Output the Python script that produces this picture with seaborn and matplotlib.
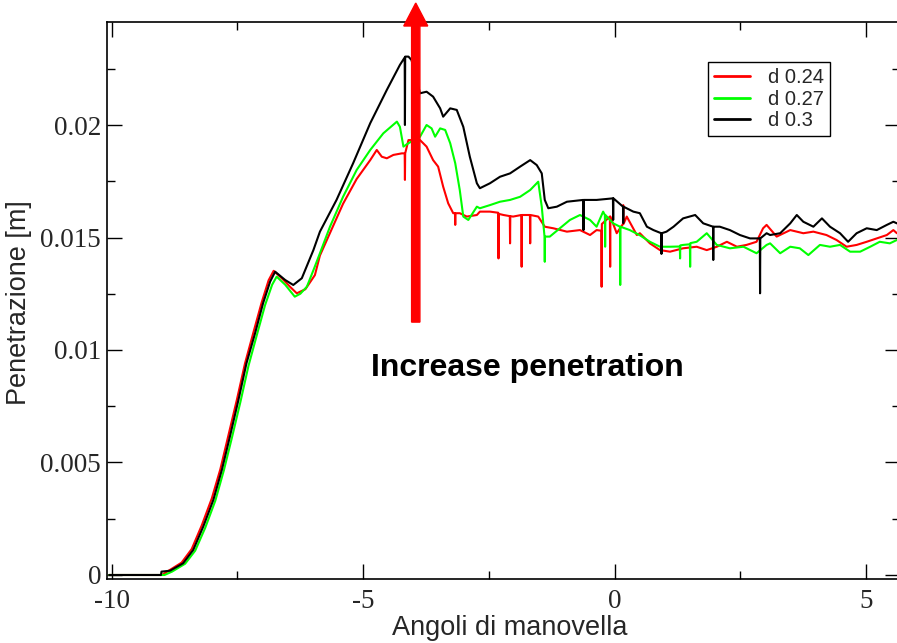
import matplotlib
matplotlib.use("Agg")
import matplotlib.pyplot as plt
import seaborn as sns
import pandas as pd
from matplotlib.ticker import FixedLocator, FixedFormatter

# ---------------- data ----------------
series_labels = ["d 0.24", "d 0.27", "d 0.3"]
series_colors = ["#ff0000", "#00ff00", "#000000"]

x_red = [-10.05, -9.0, -8.86, -8.61, -8.41, -8.21, -8.01, -7.84, -7.68, -7.51, -7.35, -7.18, -7.02, -6.88,
         -6.78, -6.60, -6.45, -6.32, -6.15, -5.96, -5.86, -5.66, -5.40, -5.13, -4.86, -4.73, -4.63, -4.53,
         -4.40, -4.23, -4.175, -4.17, -4.165, -4.10, -3.87, -3.74, -3.61, -3.51, -3.41, -3.31, -3.21, -3.175,
         -3.17, -3.165, -3.08, -2.94, -2.74, -2.68, -2.48, -2.315, -2.31, -2.305, -2.21, -2.085, -2.08, -2.075,
         -2.02, -1.855, -1.85, -1.845, -1.685, -1.68, -1.675, -1.52, -1.39, -1.22, -0.95, -0.69, -0.49, -0.36,
         -0.265, -0.26, -0.255, -0.095, -0.09, -0.085, 0.04, 0.165, 0.17, 0.175, 0.24, 0.44, 0.50, 0.70, 0.90,
         1.10, 1.36, 1.63, 1.83, 2.03, 2.23, 2.43, 2.62, 2.82, 2.95, 3.02, 3.22, 3.49, 3.75, 3.95, 4.21, 4.41,
         4.61, 4.81, 5.01, 5.21, 5.41, 5.54, 5.61, 5.70]
y_red = [0, 0, 0.0002, 0.00055, 0.00115, 0.0022, 0.0034, 0.0047, 0.0062, 0.0078, 0.0094, 0.0108, 0.0121, 0.0131,
         0.01352, 0.01315, 0.0128, 0.01252, 0.0127, 0.01333, 0.0142, 0.0152, 0.0165, 0.0176, 0.01844, 0.01889,
         0.01859, 0.01852, 0.01867, 0.01874, 0.01874, 0.01756, 0.01874, 0.01933, 0.01933, 0.01904, 0.01844,
         0.01815, 0.01726, 0.01652, 0.01608, 0.01608, 0.01556, 0.01608, 0.01608, 0.01593, 0.01600, 0.01615,
         0.01615, 0.01610, 0.01407, 0.01605, 0.01600, 0.01595, 0.01474, 0.01595, 0.01593, 0.01600, 0.01370,
         0.01600, 0.01600, 0.01474, 0.01600, 0.01593, 0.01548, 0.01541, 0.01526, 0.01533, 0.01511, 0.01533,
         0.01530, 0.01281, 0.01560, 0.01593, 0.01370, 0.01593, 0.01519, 0.01560, 0.01644, 0.01560, 0.01593,
         0.01511, 0.01519, 0.01474, 0.01444, 0.01437, 0.01452, 0.01459, 0.01444, 0.01459, 0.01481, 0.01459,
         0.01467, 0.01481, 0.01541, 0.01556, 0.01504, 0.01533, 0.01519, 0.01526, 0.01511, 0.01489, 0.01459,
         0.01467, 0.01481, 0.01496, 0.01511, 0.01533, 0.01519, 0.01520]

x_green = [-10.05, -8.95, -8.80, -8.54, -8.34, -8.14, -7.94, -7.77, -7.61, -7.44, -7.28, -7.11, -6.95, -6.81,
           -6.72, -6.55, -6.36, -6.25, -6.12, -5.98, -5.86, -5.66, -5.40, -5.13, -4.86, -4.60, -4.33, -4.27,
           -4.20, -4.10, -3.87, -3.74, -3.64, -3.57, -3.47, -3.37, -3.27, -3.17, -3.08, -3.01, -2.91, -2.74,
           -2.68, -2.48, -2.28, -2.08, -1.88, -1.68, -1.52, -1.45, -1.395, -1.39, -1.385, -1.29, -1.09, -0.89,
           -0.69, -0.49, -0.36, -0.23, -0.195, -0.19, -0.185, -0.03, 0.105, 0.11, 0.115, 0.30, 0.50, 0.70, 0.90,
           1.10, 1.295, 1.30, 1.305, 1.36, 1.495, 1.50, 1.505, 1.63, 1.83, 2.03, 2.29, 2.56, 2.82, 3.02, 3.09,
           3.29, 3.49, 3.68, 3.85, 4.08, 4.28, 4.48, 4.68, 4.88, 5.08, 5.27, 5.47, 5.61, 5.70]
y_green = [0, 0, 0.00015, 0.0005, 0.00108, 0.0021, 0.0033, 0.00465, 0.0061, 0.0077, 0.0093, 0.0107, 0.0120,
           0.0129, 0.01326, 0.0129, 0.01237, 0.0125, 0.01281, 0.0136, 0.0143, 0.01548, 0.01681, 0.01800,
           0.01889, 0.01963, 0.02015, 0.01992, 0.01904, 0.01919, 0.01948, 0.02000, 0.01985, 0.01948, 0.01985,
           0.01978, 0.01919, 0.01830, 0.01711, 0.01593, 0.01578, 0.01637, 0.01630, 0.01644, 0.01659, 0.01667,
           0.01681, 0.01711, 0.01748, 0.01637, 0.01504, 0.01392, 0.01504, 0.01504, 0.01541, 0.01578, 0.01600,
           0.01578, 0.01548, 0.01615, 0.01600, 0.01459, 0.01600, 0.01563, 0.01548, 0.01289, 0.01548, 0.01533,
           0.01510, 0.01481, 0.01459, 0.01459, 0.01460, 0.01407, 0.01465, 0.01467, 0.01470, 0.01370, 0.01475,
           0.01481, 0.01519, 0.01467, 0.01452, 0.01459, 0.01430, 0.01467, 0.01474, 0.01430, 0.01459, 0.01452,
           0.01422, 0.01467, 0.01459, 0.01467, 0.01437, 0.01437, 0.01459, 0.01481, 0.01474, 0.01489, 0.01480]

x_black = [-10.05, -9.02, -9.01, -8.84, -8.58, -8.38, -8.18, -7.98, -7.81, -7.65, -7.48, -7.32, -7.15, -6.99,
           -6.85, -6.75, -6.55, -6.39, -6.22, -5.99, -5.86, -5.53, -5.20, -4.86, -4.53, -4.27, -4.175, -4.17,
           -4.165, -4.10, -4.04, -3.87, -3.74, -3.61, -3.47, -3.41, -3.27, -3.14, -3.01, -2.88, -2.74, -2.68,
           -2.48, -2.28, -2.08, -1.88, -1.68, -1.55, -1.45, -1.39, -1.32, -1.15, -0.95, -0.625, -0.62, -0.615,
           -0.36, -0.035, -0.03, -0.025, 0.165, 0.17, 0.175, 0.37, 0.50, 0.64, 0.77, 0.925, 0.93, 0.935, 1.03,
           1.17, 1.36, 1.60, 1.76, 1.955, 1.96, 1.965, 2.09, 2.29, 2.49, 2.69, 2.885, 2.89, 2.895, 3.02, 3.09,
           3.29, 3.49, 3.62, 3.75, 3.95, 4.12, 4.28, 4.48, 4.64, 4.81, 5.01, 5.21, 5.41, 5.54, 5.61, 5.70]
y_black = [0, 0, 0.00015, 0.00019, 0.00052, 0.00111, 0.00215, 0.00333, 0.00467, 0.00615, 0.00778, 0.00941,
           0.01074, 0.01208, 0.01304, 0.01348, 0.01311, 0.01289, 0.01319, 0.01444, 0.01526, 0.01667, 0.01830,
           0.02008, 0.02156, 0.02267, 0.02300, 0.02000, 0.02304, 0.02304, 0.02289, 0.02141, 0.02148, 0.02126,
           0.02074, 0.02037, 0.02074, 0.02067, 0.01992, 0.01859, 0.01741, 0.01719, 0.01741, 0.01770, 0.01785,
           0.01815, 0.01844, 0.01822, 0.01785, 0.01667, 0.01630, 0.01637, 0.01659, 0.01667, 0.01533, 0.01667,
           0.01667, 0.01674, 0.01578, 0.01674, 0.01637, 0.01564, 0.01637, 0.01615, 0.01608, 0.01548, 0.01533,
           0.01519, 0.01427, 0.01519, 0.01526, 0.01548, 0.01585, 0.01600, 0.01563, 0.01548, 0.01400, 0.01548,
           0.01548, 0.01533, 0.01511, 0.01496, 0.01496, 0.01252, 0.01496, 0.01519, 0.01511, 0.01519, 0.01563,
           0.01600, 0.01570, 0.01548, 0.01585, 0.01548, 0.01519, 0.01481, 0.01519, 0.01541, 0.01533, 0.01556,
           0.01570, 0.01563, 0.01560]

x_ticks = [-10, -5, 0, 5]
x_ticklabels = ["-10", "-5", "0", "5"]
x_minor = [-7.5, -2.5, 2.5]
y_ticks = [0, 0.005, 0.01, 0.015, 0.02]
y_ticklabels = ["0", "0.005", "0.01", "0.015", "0.02"]
y_minor = [0.0025, 0.0075, 0.0125, 0.0175, 0.0225]

x_label = "Angoli di manovella"
y_label = "Penetrazione [m]"
note_text = "Increase penetration"
note_pos = (-1.74, 0.0092)
arrow_x = -3.955
arrow_y0, arrow_y1 = 0.01124, 0.02542

# ---------------- figure ----------------
sns.set_style("ticks")
plt.rcParams["axes.unicode_minus"] = False
plt.rcParams["font.family"] = ["Liberation Sans", "DejaVu Sans"]

W, H = 897, 643
fig = plt.figure(figsize=(W / 100, H / 100), dpi=100)
ax = fig.add_axes([106.7 / W, 1 - 579 / H, (900 - 106.7) / W, (579 - 22) / H])

for xs, ys, lab, col in zip([x_red, x_green, x_black], [y_red, y_green, y_black],
                            series_labels, series_colors):
    df = pd.DataFrame({"x": xs, "y": ys})
    sns.lineplot(data=df, x="x", y="y", sort=False, estimator=None, color=col,
                 linewidth=1.5, label=lab, ax=ax)

ax.set_xlim(-10.099, 5.672)
ax.set_ylim(-0.000178, 0.024578)

ax.xaxis.set_major_locator(FixedLocator(x_ticks))
ax.xaxis.set_major_formatter(FixedFormatter(x_ticklabels))
ax.xaxis.set_minor_locator(FixedLocator(x_minor))
ax.yaxis.set_major_locator(FixedLocator(y_ticks))
ax.yaxis.set_major_formatter(FixedFormatter(y_ticklabels))
ax.yaxis.set_minor_locator(FixedLocator(y_minor))

ax.tick_params(which="both", direction="in", top=True, right=True, width=1.0, color="black")
ax.tick_params(which="major", length=11)
ax.tick_params(which="minor", length=6)
ax.tick_params(axis="x", which="major", pad=7)
ax.tick_params(axis="y", which="major", pad=4)
for lbl in ax.get_xticklabels() + ax.get_yticklabels():
    lbl.set_fontfamily(["Liberation Serif", "DejaVu Serif"])
    lbl.set_fontsize(19.5)

for sp in ax.spines.values():
    sp.set_linewidth(1.2)
    sp.set_color("black")

ax.set_xlabel(x_label, fontsize=19.5, va="center")
ax.set_ylabel(y_label, fontsize=19.5, va="center", ha="center")
ax.xaxis.set_label_coords(0.508, -0.088)
ax.yaxis.set_label_coords(-0.111, 0.497)

ax.text(note_pos[0], note_pos[1], note_text, ha="center", va="center",
        fontsize=23, fontweight="bold", color="black")

ax.arrow(arrow_x, arrow_y0, 0, arrow_y1 - arrow_y0, width=0.165, head_width=0.477,
         head_length=0.00102, length_includes_head=True, fc="#ff0000", ec="#ff0000",
         clip_on=False, zorder=6)

leg = ax.legend(loc="upper right", bbox_to_anchor=(0.912, 0.928), borderaxespad=0,
                fontsize=14.5, handlelength=1.8, handletextpad=0.9, borderpad=0.3,
                labelspacing=0.12, fancybox=False, framealpha=1, edgecolor="black")
leg.get_frame().set_linewidth(1.0)
for h in leg.get_lines():
    h.set_linewidth(2.0)

fig.savefig("out.png", dpi=100)
